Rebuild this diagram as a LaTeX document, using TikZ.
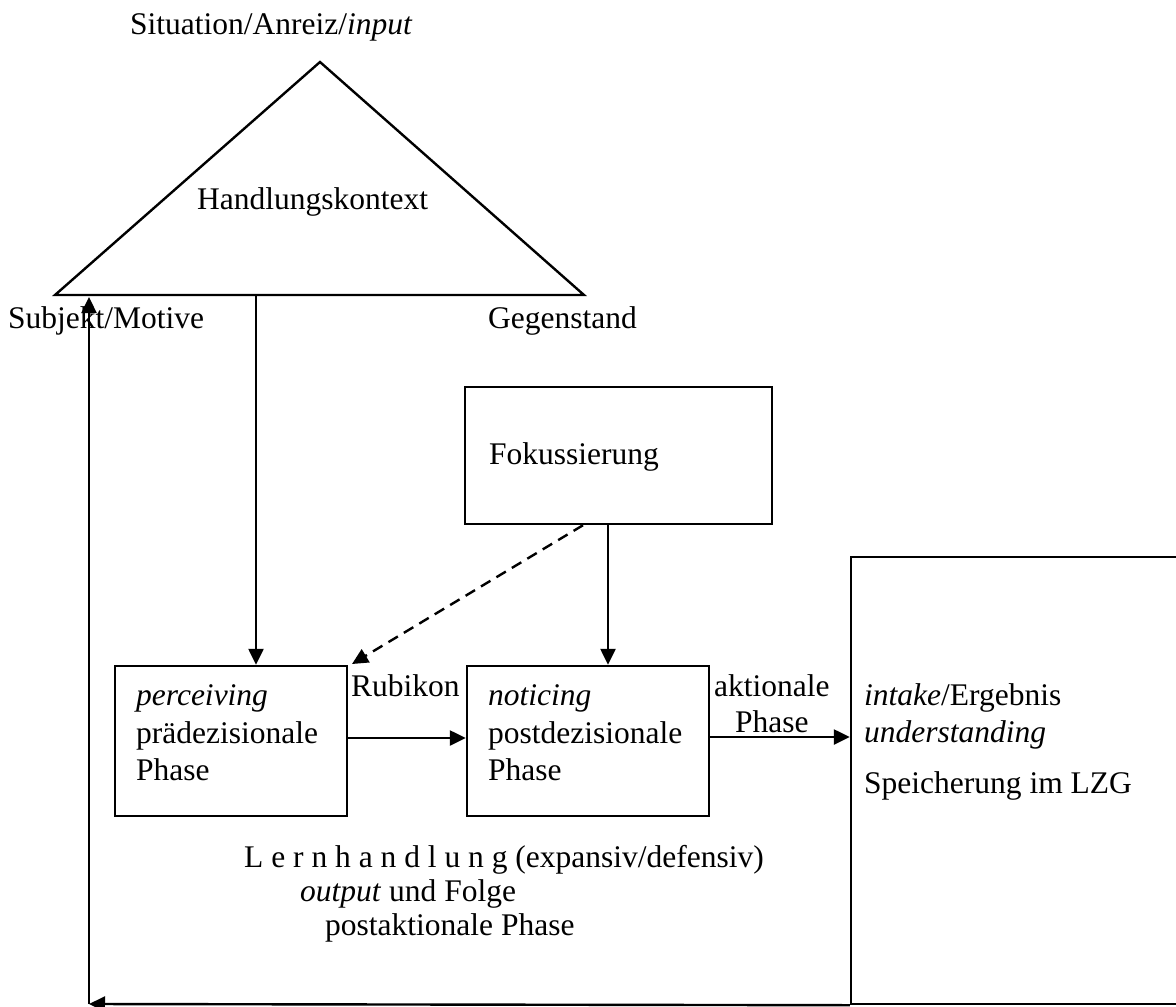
\documentclass[tikz,border=0pt]{standalone}
\usepackage{fontspec}
\setmainfont{Liberation Serif}
\usetikzlibrary{arrows.meta}
\begin{document}
\begin{tikzpicture}[x=1pt,y=-1pt,
  line/.style={line width=2.4pt},
  arr/.style={line width=2.4pt,-{Triangle[length=16pt,width=15pt]}},
  box/.style={draw,line width=2.4pt,rectangle,inner sep=0pt},
  lbl/.style={anchor=base west,inner sep=0pt,font=\fontsize{31.5}{37.5}\selectfont},
]
\useasboundingbox (0,0) rectangle (1176,1007);

% action context triangle
\coordinate (top) at (320,62);
\coordinate (bl) at (55,295);
\coordinate (br) at (584,295);
\draw[line] (top) -- (bl) -- (br) -- cycle;

% boxes
\node[box,minimum width=232pt,minimum height=150pt] (pre) at (231,741) {};
\node[box,minimum width=242pt,minimum height=150pt] (nt) at (588,741) {};
\node[box,minimum width=307pt,minimum height=137pt] (fok) at (618.5,455.5) {};
\node[box,minimum width=349pt,minimum height=447pt] (res) at (1025.5,780.5) {};

% connectors
\coordinate (hk) at (256,295);
\draw[arr] (hk) -- (hk |- pre.north);
\coordinate (f1) at (608,455);
\draw[arr] (f1 |- fok.south) -- (f1 |- nt.north);
\coordinate (d0) at (583,455);
\coordinate (d1) at (352,664);
\draw[arr,dash pattern=on 11pt off 7pt] (d0 |- fok.south) -- (d1);
\draw[arr] ([yshift=3pt]pre.east) -- ([yshift=3pt]pre.east -| nt.west);
\draw[arr] ([yshift=4pt]nt.east) -- ([yshift=4pt]nt.east -| res.west);
\coordinate (lc) at (89,1004);
\coordinate (up) at (89,297);
\draw[arr] (res.south west) -- (lc);
\draw[arr] (lc) -- (up);

% labels
\node[lbl] (sit) at (130,34) {Situation/Anreiz/\textit{input}};
\node[lbl] (hkt) at (197,209) {Handlungskontext};
\node[lbl] (sub) at (8,328) {Subjekt/Motive};
\node[lbl] (geg) at (488,328) {Gegenstand};
\node[lbl] (fokt) at (489,464) {Fokussierung};

\node[lbl] (pre1) at (136,705) {\textit{perceiving}};
\node[lbl] (pre2) at (136,743) {prädezisionale};
\node[lbl] (pre3) at (136,780) {Phase};

\node[lbl] (rub) at (351,696) {Rubikon};

\node[lbl] (nt1) at (488,705) {\textit{noticing}};
\node[lbl] (nt2) at (488,743) {postdezisionale};
\node[lbl] (nt3) at (488,780) {Phase};

\node[lbl] (akt1) at (714,696) {aktionale};
\node[lbl] (akt2) at (735,732) {Phase};

\node[lbl] (res1) at (864,705) {\textit{intake}/Ergebnis};
\node[lbl] (res2) at (864,742) {\textit{understanding}};
\node[lbl] (res3) at (864,793) {Speicherung im LZG};

\node[lbl] (lh1) at (244,867) {L e r n h a n d l u n g (expansiv/defensiv)};
\node[lbl] (lh2) at (300,901) {\textit{output} und Folge};
\node[lbl] (lh3) at (325,935) {postaktionale Phase};
\end{tikzpicture}
\end{document}
